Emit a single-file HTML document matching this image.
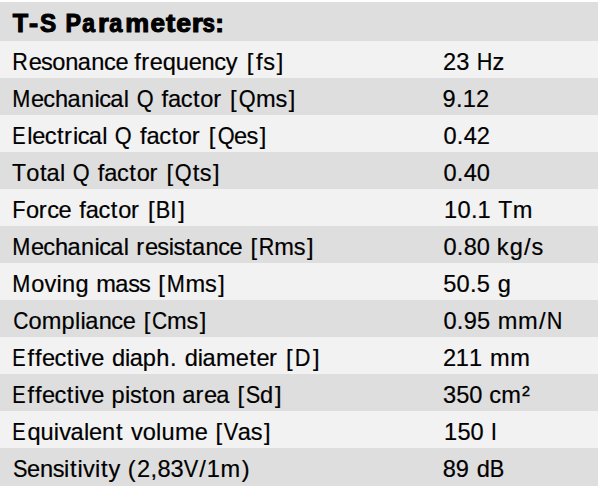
<!DOCTYPE html>
<html><head><meta charset="utf-8"><style>
html,body{margin:0;padding:0;background:#fff;}
body{width:600px;height:488px;position:relative;overflow:hidden;font-kerning:none;font-variant-ligatures:none;font-family:"Liberation Sans",sans-serif;color:#000;}
.r{position:absolute;left:0;width:598px;}
.l{position:absolute;left:0;height:0;font-size:23.6px;line-height:0;-webkit-text-stroke:0.2px #000;}
.l i{position:absolute;top:0;font-style:normal;white-space:pre;}
.hh{position:absolute;left:0;height:0;font-size:27.5px;font-weight:bold;line-height:0;-webkit-text-stroke:1.2px #000;}
.hh i{position:absolute;top:0;font-style:normal;white-space:pre;}
</style></head><body>
<div class="r" style="top:2px;height:39px;background:#dedede"></div>
<div class="hh" style="top:23.47px"><i style="left:12.34px;transform:scale(0.914,0.937);transform-origin:8.41px 9.53px">T</i><i style="left:29.18px;transform:scale(0.990,0.937);transform-origin:4.57px 9.53px">-</i><i style="left:39.27px;transform:scale(0.883,0.937);transform-origin:9.03px 9.53px">S</i><i style="left:63.78px;transform:scale(0.847,0.937);transform-origin:9.62px 9.53px">P</i><i style="left:80.99px;transform:scale(0.835,0.937);transform-origin:8.14px 9.53px">a</i><i style="left:97.58px;transform:scale(1.008,0.937);transform-origin:6.05px 9.53px">r</i><i style="left:107.96px;transform:scale(0.857,0.937);transform-origin:8.14px 9.53px">a</i><i style="left:124.80px;transform:scale(0.978,0.937);transform-origin:12.28px 9.53px">m</i><i style="left:149.66px;transform:scale(0.950,0.937);transform-origin:7.71px 9.53px">e</i><i style="left:165.55px;transform:scale(1.007,0.937);transform-origin:4.58px 9.53px">t</i><i style="left:175.56px;transform:scale(0.970,0.937);transform-origin:7.71px 9.53px">e</i><i style="left:191.50px;transform:scale(1.044,0.937);transform-origin:6.05px 9.53px">r</i><i style="left:201.18px;transform:scale(0.813,0.937);transform-origin:7.57px 9.53px">s</i><i style="left:215.42px;transform:scale(0.947,0.937);transform-origin:4.58px 9.53px">:</i></div>
<div class="r" style="top:41px;height:37px;background:#f2f2f2"></div>
<div class="l" style="top:61.82px"><i style="left:12.46px;transform:scaleX(0.91);transform-origin:1.94px 0">R</i><i style="left:28.63px">e</i><i style="left:41.03px">s</i><i style="left:52.14px">o</i><i style="left:65.33px">n</i><i style="left:77.85px">a</i><i style="left:91.33px">n</i><i style="left:104.04px">c</i><i style="left:115.44px">e</i><i style="left:134.36px">f</i><i style="left:141.31px">r</i><i style="left:149.80px">e</i><i style="left:162.86px">q</i><i style="left:175.82px">u</i><i style="left:188.71px">e</i><i style="left:201.55px">n</i><i style="left:214.15px">c</i><i style="left:225.71px">y</i><i style="left:246.67px">[</i><i style="left:255.98px">f</i><i style="left:263.14px">s</i><i style="left:276.69px">]</i></div>
<div class="l" style="top:61.82px"><i style="left:443.01px">2</i><i style="left:456.19px">3</i><i style="left:476.32px;transform:scaleX(0.92);transform-origin:8.53px 0">H</i><i style="left:492.48px">z</i></div>
<div class="r" style="top:78px;height:37px;background:#dedede"></div>
<div class="l" style="top:98.82px"><i style="left:12.21px;transform:scaleX(0.92);transform-origin:1.94px 0">M</i><i style="left:31.07px">e</i><i style="left:43.36px">c</i><i style="left:55.07px">h</i><i style="left:67.61px">a</i><i style="left:81.09px">n</i><i style="left:94.50px">i</i><i style="left:99.31px">c</i><i style="left:110.16px">a</i><i style="left:123.65px">l</i><i style="left:135.86px;transform:scaleX(0.92);transform-origin:9.17px 0">Q</i><i style="left:161.39px">f</i><i style="left:167.91px">a</i><i style="left:180.71px">c</i><i style="left:192.97px">t</i><i style="left:200.30px">o</i><i style="left:213.19px">r</i><i style="left:230.10px">[</i><i style="left:238.05px;transform:scaleX(0.92);transform-origin:9.17px 0">Q</i><i style="left:255.96px">m</i><i style="left:275.43px">s</i><i style="left:288.65px">]</i></div>
<div class="l" style="top:98.82px"><i style="left:442.59px">9</i><i style="left:456.06px">.</i><i style="left:462.64px">1</i><i style="left:476.07px">2</i></div>
<div class="r" style="top:115px;height:37px;background:#f2f2f2"></div>
<div class="l" style="top:135.82px"><i style="left:12.01px;transform:scaleX(0.85);transform-origin:1.94px 0">E</i><i style="left:27.20px">l</i><i style="left:32.35px">e</i><i style="left:44.64px">c</i><i style="left:56.90px">t</i><i style="left:64.08px">r</i><i style="left:73.05px">i</i><i style="left:77.86px">c</i><i style="left:88.71px">a</i><i style="left:102.20px">l</i><i style="left:114.41px;transform:scaleX(0.92);transform-origin:9.17px 0">Q</i><i style="left:139.94px">f</i><i style="left:146.46px">a</i><i style="left:159.26px">c</i><i style="left:171.52px">t</i><i style="left:178.85px">o</i><i style="left:191.74px">r</i><i style="left:208.65px">[</i><i style="left:216.60px;transform:scaleX(0.92);transform-origin:9.17px 0">Q</i><i style="left:234.04px">e</i><i style="left:246.44px">s</i><i style="left:259.66px">]</i></div>
<div class="l" style="top:135.82px"><i style="left:443.38px">0</i><i style="left:456.85px">.</i><i style="left:463.83px">4</i><i style="left:476.86px">2</i></div>
<div class="r" style="top:152px;height:37px;background:#dedede"></div>
<div class="l" style="top:172.82px"><i style="left:12.07px;transform:scaleX(0.97);transform-origin:0.53px 0">T</i><i style="left:26.23px">o</i><i style="left:39.95px">t</i><i style="left:46.56px">a</i><i style="left:60.05px">l</i><i style="left:72.26px;transform:scaleX(0.92);transform-origin:9.17px 0">Q</i><i style="left:97.79px">f</i><i style="left:104.31px">a</i><i style="left:117.11px">c</i><i style="left:129.37px">t</i><i style="left:136.71px">o</i><i style="left:149.59px">r</i><i style="left:166.50px">[</i><i style="left:174.45px;transform:scaleX(0.92);transform-origin:9.17px 0">Q</i><i style="left:192.76px">t</i><i style="left:199.69px">s</i><i style="left:212.91px">]</i></div>
<div class="l" style="top:172.82px"><i style="left:443.38px">0</i><i style="left:456.85px">.</i><i style="left:463.83px">4</i><i style="left:476.86px">0</i></div>
<div class="r" style="top:189px;height:37px;background:#f2f2f2"></div>
<div class="l" style="top:209.82px"><i style="left:12.06px;transform:scaleX(0.92);transform-origin:1.94px 0">F</i><i style="left:25.97px">o</i><i style="left:38.85px">r</i><i style="left:47.13px">c</i><i style="left:58.53px">e</i><i style="left:79.24px">f</i><i style="left:85.76px">a</i><i style="left:98.57px">c</i><i style="left:110.82px">t</i><i style="left:118.16px">o</i><i style="left:131.04px">r</i><i style="left:147.96px">[</i><i style="left:155.43px;transform:scaleX(0.92);transform-origin:8.22px 0">B</i><i style="left:170.84px">l</i><i style="left:178.28px">]</i></div>
<div class="l" style="top:209.82px"><i style="left:444.00px">1</i><i style="left:457.43px">0</i><i style="left:470.90px">.</i><i style="left:477.48px">1</i><i style="left:498.24px;transform:scaleX(0.97);transform-origin:7.20px 0">T</i><i style="left:512.69px">m</i></div>
<div class="r" style="top:226px;height:37px;background:#dedede"></div>
<div class="l" style="top:246.82px"><i style="left:12.21px;transform:scaleX(0.92);transform-origin:1.94px 0">M</i><i style="left:31.07px">e</i><i style="left:43.36px">c</i><i style="left:55.07px">h</i><i style="left:67.61px">a</i><i style="left:81.09px">n</i><i style="left:94.50px">i</i><i style="left:99.31px">c</i><i style="left:110.16px">a</i><i style="left:123.65px">l</i><i style="left:136.34px">r</i><i style="left:144.95px">e</i><i style="left:157.35px">s</i><i style="left:168.64px">i</i><i style="left:173.55px">s</i><i style="left:185.34px">t</i><i style="left:191.96px">a</i><i style="left:205.44px">n</i><i style="left:218.15px">c</i><i style="left:229.55px">e</i><i style="left:250.48px">[</i><i style="left:257.61px;transform:scaleX(0.91);transform-origin:8.94px 0">R</i><i style="left:274.25px">m</i><i style="left:293.72px">s</i><i style="left:306.94px">]</i></div>
<div class="l" style="top:246.82px"><i style="left:443.38px">0</i><i style="left:456.85px">.</i><i style="left:463.75px">8</i><i style="left:476.86px">0</i><i style="left:496.75px">k</i><i style="left:509.78px">g</i><i style="left:524.01px">/</i><i style="left:531.43px">s</i></div>
<div class="r" style="top:263px;height:37px;background:#f2f2f2"></div>
<div class="l" style="top:283.82px"><i style="left:12.21px;transform:scaleX(0.92);transform-origin:1.94px 0">M</i><i style="left:31.25px">o</i><i style="left:44.40px">v</i><i style="left:56.41px">i</i><i style="left:61.89px">n</i><i style="left:75.51px">g</i><i style="left:96.20px">m</i><i style="left:115.35px">a</i><i style="left:128.26px">s</i><i style="left:138.97px">s</i><i style="left:158.20px">[</i><i style="left:166.25px;transform:scaleX(0.92);transform-origin:9.83px 0">M</i><i style="left:185.57px">m</i><i style="left:205.04px">s</i><i style="left:218.26px">]</i></div>
<div class="l" style="top:283.82px"><i style="left:443.36px">5</i><i style="left:456.44px">0</i><i style="left:469.91px">.</i><i style="left:476.84px">5</i><i style="left:497.78px">g</i></div>
<div class="r" style="top:300px;height:37px;background:#dedede"></div>
<div class="l" style="top:320.82px"><i style="left:12.60px;transform:scaleX(0.89);transform-origin:1.20px 0">C</i><i style="left:28.44px">o</i><i style="left:41.76px">m</i><i style="left:61.49px">p</i><i style="left:75.07px">l</i><i style="left:80.58px">i</i><i style="left:85.18px">a</i><i style="left:98.66px">n</i><i style="left:111.37px">c</i><i style="left:122.77px">e</i><i style="left:143.70px">[</i><i style="left:150.87px;transform:scaleX(0.89);transform-origin:8.67px 0">C</i><i style="left:166.99px">m</i><i style="left:186.46px">s</i><i style="left:199.68px">]</i></div>
<div class="l" style="top:320.82px"><i style="left:443.38px">0</i><i style="left:456.85px">.</i><i style="left:463.76px">9</i><i style="left:476.88px">5</i><i style="left:497.73px">m</i><i style="left:517.89px">m</i><i style="left:539.11px">/</i><i style="left:546.45px;transform:scaleX(0.92);transform-origin:8.53px 0">N</i></div>
<div class="r" style="top:337px;height:37px;background:#f2f2f2"></div>
<div class="l" style="top:357.82px"><i style="left:12.01px;transform:scaleX(0.85);transform-origin:1.94px 0">E</i><i style="left:27.43px">f</i><i style="left:35.06px">f</i><i style="left:42.11px">e</i><i style="left:54.41px">c</i><i style="left:66.67px">t</i><i style="left:74.18px">i</i><i style="left:79.62px">v</i><i style="left:91.27px">e</i><i style="left:111.97px">d</i><i style="left:125.03px">i</i><i style="left:129.63px">a</i><i style="left:142.81px">p</i><i style="left:156.35px">h</i><i style="left:170.02px">.</i><i style="left:184.78px">d</i><i style="left:197.85px">i</i><i style="left:202.45px">a</i><i style="left:216.06px">m</i><i style="left:235.75px">e</i><i style="left:249.23px">t</i><i style="left:256.39px">e</i><i style="left:269.04px">r</i><i style="left:285.96px">[</i><i style="left:293.79px;transform:scaleX(0.92);transform-origin:8.92px 0">D</i><i style="left:312.92px">]</i></div>
<div class="l" style="top:357.82px"><i style="left:443.01px">2</i><i style="left:455.79px">1</i><i style="left:468.90px">1</i><i style="left:490.09px">m</i><i style="left:510.25px">m</i></div>
<div class="r" style="top:374px;height:37px;background:#dedede"></div>
<div class="l" style="top:394.82px"><i style="left:12.01px;transform:scaleX(0.85);transform-origin:1.94px 0">E</i><i style="left:27.43px">f</i><i style="left:35.06px">f</i><i style="left:42.11px">e</i><i style="left:54.41px">c</i><i style="left:66.67px">t</i><i style="left:74.18px">i</i><i style="left:79.62px">v</i><i style="left:91.27px">e</i><i style="left:111.44px">p</i><i style="left:125.03px">i</i><i style="left:129.95px">s</i><i style="left:141.74px">t</i><i style="left:149.07px">o</i><i style="left:162.27px">n</i><i style="left:182.29px">a</i><i style="left:195.46px">r</i><i style="left:204.07px">e</i><i style="left:216.15px">a</i><i style="left:237.60px">[</i><i style="left:245.04px;transform:scaleX(0.92);transform-origin:7.86px 0">S</i><i style="left:259.93px">d</i><i style="left:274.93px">]</i></div>
<div class="l" style="top:394.82px"><i style="left:443.10px">3</i><i style="left:456.16px">5</i><i style="left:469.24px">0</i><i style="left:489.31px">c</i><i style="left:501.18px">m</i><i style="left:521.95px">²</i></div>
<div class="r" style="top:411px;height:37px;background:#f2f2f2"></div>
<div class="l" style="top:431.82px"><i style="left:12.01px;transform:scaleX(0.85);transform-origin:1.94px 0">E</i><i style="left:27.41px">q</i><i style="left:40.50px">u</i><i style="left:53.87px">i</i><i style="left:59.31px">v</i><i style="left:70.43px">a</i><i style="left:83.91px">l</i><i style="left:89.06px">e</i><i style="left:102.03px">n</i><i style="left:115.94px">t</i><i style="left:130.91px">v</i><i style="left:142.73px">o</i><i style="left:155.93px">l</i><i style="left:161.46px">u</i><i style="left:174.95px">m</i><i style="left:194.63px">e</i><i style="left:215.57px">[</i><i style="left:223.48px;transform:scaleX(0.92);transform-origin:7.87px 0">V</i><i style="left:237.75px">a</i><i style="left:250.67px">s</i><i style="left:263.89px">]</i></div>
<div class="l" style="top:431.82px"><i style="left:444.00px">1</i><i style="left:457.45px">5</i><i style="left:470.53px">0</i><i style="left:491.28px">l</i></div>
<div class="r" style="top:448px;height:38px;background:#dedede"></div>
<div class="l" style="top:468.82px"><i style="left:12.63px;transform:scaleX(0.92);transform-origin:1.07px 0">S</i><i style="left:26.95px">e</i><i style="left:39.92px">n</i><i style="left:52.74px">s</i><i style="left:64.03px">i</i><i style="left:70.03px">t</i><i style="left:77.54px">i</i><i style="left:82.98px">v</i><i style="left:94.99px">i</i><i style="left:100.99px">t</i><i style="left:108.44px">y</i><i style="left:127.84px">(</i><i style="left:137.01px">2</i><i style="left:150.49px">,</i><i style="left:157.39px">8</i><i style="left:170.56px">3</i><i style="left:182.90px;transform:scaleX(0.92);transform-origin:7.87px 0">V</i><i style="left:199.24px">/</i><i style="left:206.77px">1</i><i style="left:220.45px">m</i><i style="left:241.70px">)</i></div>
<div class="l" style="top:468.82px"><i style="left:442.67px">8</i><i style="left:455.78px">9</i><i style="left:476.74px">d</i><i style="left:488.53px;transform:scaleX(0.92);transform-origin:8.22px 0">B</i></div>
</body></html>
